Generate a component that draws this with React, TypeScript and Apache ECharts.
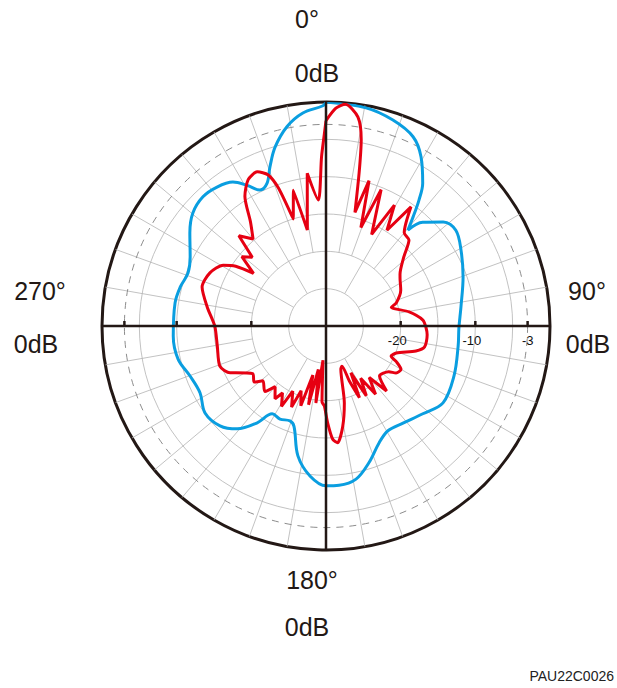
import React, { useEffect, useRef } from "react";
import * as echarts from "echarts";

// Radiation pattern data: angle (deg, clockwise from top) and level (dB)
const redAngles = [0, 2.6, 5, 8.7, 10.7, 12.2, 14.3, 16.5, 19.5, 22, 26.5, 29.5, 32.5, 35.5, 40, 44, 48.5, 55, 58, 64.4, 71.8, 74, 80.4, 86.5, 91, 95, 102, 105.5, 111, 114.8, 117, 120, 123.9, 126, 133, 137, 140, 144, 146.5, 150, 152, 155, 157, 158.5, 161, 166.6, 170.5, 174.3, 176.6, 179, 181.2, 183, 185, 187.5, 190, 192.5, 195, 197.5, 201, 203, 207, 209, 213, 215, 220, 223, 229, 232, 237, 242.6, 244, 249.3, 259.6, 270, 279, 287.5, 294.6, 300.6, 303.5, 306, 309.5, 313, 316, 320, 324, 328, 332, 336, 339, 341, 343, 346.5, 349, 353, 356.5, 358.5, 359.5, 360];
const redDb = [-2.5, -0.8, -0.2, -1.7, -4.6, -9.0, -14.3, -9.7, -16.0, -10.3, -16.3, -11.4, -14.8, -10.4, -13.7, -14.0, -16.1, -17.9, -18.3, -18.9, -20.1, -20.9, -18.7, -17.0, -16.6, -16.4, -16.5, -17.5, -19.9, -20.4, -19.4, -18.4, -18.7, -19.6, -20.2, -18.1, -21.0, -18.7, -21.6, -19.2, -22.9, -19.4, -22.0, -24.2, -23.9, -19.4, -16.4, -14.3, -14.8, -17.0, -19.3, -19.8, -25.4, -19.6, -24.1, -19.2, -23.2, -18.8, -20.7, -18.2, -20.2, -17.7, -19.3, -18.1, -19.4, -18.0, -18.8, -17.8, -18.3, -16.4, -15.7, -14.8, -15.2, -15.1, -13.9, -12.6, -12.9, -14.0, -15.5, -18.0, -15.4, -16.5, -13.2, -14.8, -12.8, -9.5, -7.8, -7.4, -8.3, -10.5, -15.0, -11.3, -16.9, -9.4, -13.1, -7.3, -4.3, -2.5];

const blueAngles = [0, 10.4, 18, 24.7, 29.3, 34.1, 36.4, 38.6, 40.5, 43, 48.4, 53.6, 60.6, 70.3, 82, 90.9, 98.6, 111.3, 123.3, 132.2, 141.6, 149.4, 155.6, 162.6, 168.9, 175.3, 180, 186.1, 192.2, 197.7, 200.8, 206.3, 211.5, 215.4, 220.8, 226.7, 234.3, 242, 249.8, 257.4, 266.3, 278.7, 285, 291, 296.9, 304.4, 310.4, 316.4, 321.9, 327.1, 330.7, 334.1, 337.6, 340.6, 344.1, 348.9, 353.8, 359.2, 360];
const blueDb = [0, -0.3, -1.0, -2.1, -4.0, -6.9, -9.0, -11.3, -13.1, -11.0, -9.0, -8.4, -9.25, -10.5, -11.75, -12.2, -12.1, -11.6, -11.25, -12.5, -13.4, -13.7, -12.8, -10.8, -9.1, -8.6, -8.6, -9.8, -12.2, -15.9, -16.4, -16.1, -16.2, -14.1, -11.8, -10.5, -10.05, -10.9, -10.6, -9.7, -9.5, -9.55, -9.8, -10.2, -9.6, -7.9, -6.6, -6.1, -6.35, -7.05, -8.4, -9.75, -9.3, -7.4, -5.1, -2.8, -1.3, -0.5, 0];

// Grid / axis definitions
const radiusMin = -30;
const radiusMax = 0;
const dashedLevel = -3;
const tickLevels = [-20, -10, -3];
const tickLabels = ["-20", "-10", "-3"];
const spokeAngles = [10, 20, 30, 40, 50, 60, 70, 80, 100, 110, 120, 130, 140, 150, 160, 170, 190, 200, 210, 220, 230, 240, 250, 260, 280, 290, 300, 310, 320, 330, 340, 350];
const axisAngles = [0, 90];

const dirLabels = [
  { text: "0°", x: 307, y: 19 },
  { text: "0dB", x: 317, y: 73 },
  { text: "270°", x: 40, y: 291 },
  { text: "0dB", x: 36, y: 344 },
  { text: "90°", x: 587, y: 291 },
  { text: "0dB", x: 588, y: 344 },
  { text: "180°", x: 312, y: 580 },
  { text: "0dB", x: 307, y: 627 },
];

const INK = "#231815";
const GRID = "#b3b3b3";
const RED = "#e60012";
const BLUE = "#0a9ee0";

export default function App() {
  const ref = useRef<HTMLDivElement>(null);
  useEffect(() => {
    if (!ref.current) return;
    const chart = echarts.init(ref.current, null, { renderer: "svg" });
    const redData = redAngles.map((a, i) => [redDb[i], a]);
    const blueData = blueAngles.map((a, i) => [blueDb[i], a]);
    const spokeData = spokeAngles.map((a) => [a % 30 === 0 ? -25 : -20, a]);
    const tickData: number[][] = [];
    tickLevels.forEach((v, i) => {
      tickData.push([v, 90, i]);
      tickData.push([v, 270, -1]);
    });

    chart.setOption({
      animation: false,
      backgroundColor: "#ffffff",
      polar: { center: [326, 326], radius: 224 },
      angleAxis: {
        type: "value",
        min: 0,
        max: 360,
        startAngle: 90,
        clockwise: true,
        axisLine: { show: true, lineStyle: { color: INK, width: 3 } },
        axisTick: { show: false },
        axisLabel: { show: false },
        splitLine: { show: false },
      },
      radiusAxis: {
        type: "value",
        min: radiusMin,
        max: radiusMax,
        interval: 5,
        axisLine: { show: false },
        axisTick: { show: false },
        axisLabel: { show: false },
        splitLine: { show: true, lineStyle: { color: GRID, width: 0.8 } },
      },
      graphic: [
        ...dirLabels.map((l) => ({
          type: "text",
          x: l.x,
          y: l.y,
          style: {
            text: l.text,
            fontSize: 25,
            fontFamily: "Liberation Sans, Arial, sans-serif",
            fill: INK,
            align: "center",
            verticalAlign: "middle",
          },
        })),
        {
          type: "text",
          x: 614,
          y: 676,
          style: {
            text: "PAU22C0026",
            fontSize: 14,
            fontFamily: "Liberation Sans, Arial, sans-serif",
            fill: "#222",
            align: "right",
            verticalAlign: "middle",
          },
        },
      ],
      series: [
        {
          type: "custom",
          coordinateSystem: "polar",
          z: 1,
          silent: true,
          data: spokeData,
          renderItem: (params: any, api: any) => {
            const a = api.value(1);
            const p1 = api.coord([api.value(0), a]);
            const p2 = api.coord([radiusMax, a]);
            return {
              type: "line",
              shape: { x1: p1[0], y1: p1[1], x2: p2[0], y2: p2[1] },
              style: { stroke: GRID, lineWidth: 0.8 },
            };
          },
        },
        {
          type: "custom",
          coordinateSystem: "polar",
          z: 1,
          silent: true,
          data: [[-25, 0], [-25, 90], [-25, 180], [-25, 270]],
          renderItem: () => null,
        },
        {
          type: "custom",
          coordinateSystem: "polar",
          z: 1,
          silent: true,
          data: [[dashedLevel, 0]],
          renderItem: (params: any, api: any) => {
            const c = api.coord([radiusMin, 0]);
            const p = api.coord([api.value(0), 0]);
            const r = Math.hypot(p[0] - c[0], p[1] - c[1]);
            return {
              type: "circle",
              shape: { cx: c[0], cy: c[1], r },
              style: { fill: "none", stroke: "#8c8c8c", lineWidth: 1, lineDash: [7, 6] },
            };
          },
        },
        {
          type: "line",
          coordinateSystem: "polar",
          z: 3,
          data: blueData,
          symbol: "none",
          smooth: 0.35,
          lineStyle: { color: BLUE, width: 3 },
        },
        {
          type: "line",
          coordinateSystem: "polar",
          z: 3,
          data: redData,
          symbol: "none",
          smooth: 0.25,
          lineStyle: { color: RED, width: 3 },
        },
        {
          type: "custom",
          coordinateSystem: "polar",
          z: 5,
          silent: true,
          data: axisAngles.map((a) => [radiusMax, a]),
          renderItem: (params: any, api: any) => {
            const a = api.value(1);
            const p1 = api.coord([radiusMax, a]);
            const p2 = api.coord([radiusMax, a + 180]);
            return {
              type: "line",
              shape: { x1: p1[0], y1: p1[1], x2: p2[0], y2: p2[1] },
              style: { stroke: INK, lineWidth: 2.5 },
            };
          },
        },
        {
          type: "custom",
          coordinateSystem: "polar",
          z: 5,
          silent: true,
          data: tickData,
          renderItem: (params: any, api: any) => {
            const p = api.coord([api.value(0), api.value(1)]);
            const idx = api.value(2);
            const children: any[] = [
              {
                type: "line",
                shape: { x1: p[0], y1: p[1], x2: p[0], y2: p[1] - 5 },
                style: { stroke: INK, lineWidth: 2.5 },
              },
            ];
            if (idx >= 0) {
              children.push({
                type: "text",
                x: p[0] + 6,
                y: p[1] + 14,
                style: {
                  text: tickLabels[idx],
                  fontSize: 13,
                  fontFamily: "Liberation Sans, Arial, sans-serif",
                  fill: "#111",
                  align: "right",
                  verticalAlign: "middle",
                },
              });
            }
            return { type: "group", children };
          },
        },
      ],
    });
    return () => chart.dispose();
  }, []);
  return (
    <div
      ref={ref}
      style={{ position: "fixed", left: 0, top: 0, width: 617, height: 688, background: "#fff" }}
    />
  );
}
